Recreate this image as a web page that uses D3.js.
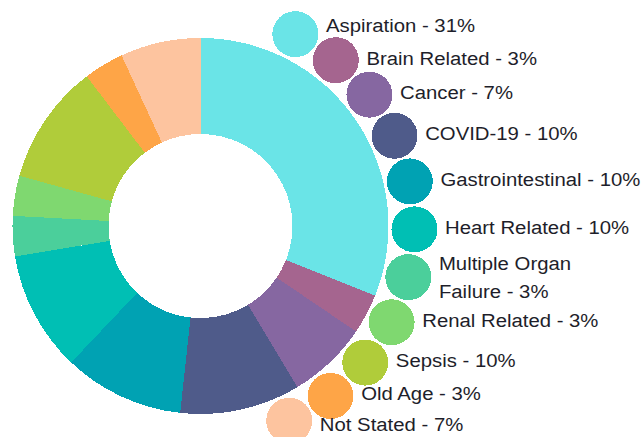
<!DOCTYPE html>
<html>
<head>
<meta charset="utf-8">
<script src="https://cdn.jsdelivr.net/npm/d3@7"></script>
<style>
  html, body { margin: 0; padding: 0; background: #fff; }
  svg { display: block; }
  text { font-family: "Liberation Sans", Arial, sans-serif; fill: #1e1e2a; }
</style>
</head>
<body>
<svg id="chart" width="644" height="437"></svg>
<script>
// Causes of death, number of cases per category
const causes = [
  "Aspiration", "Brain Related", "Cancer", "COVID-19", "Gastrointestinal",
  "Heart Related", "Multiple Organ Failure", "Renal Related", "Sepsis",
  "Old Age", "Not Stated"
];
const cases = [9, 1, 2, 3, 3, 3, 1, 1, 3, 1, 2];
const palette = [
  "#6ae4e7", "#a5658f", "#8667a1", "#4f5b8a", "#00a2b3",
  "#00bfb4", "#4bcf9b", "#7fd870", "#b0cc3a", "#fea547", "#fdc49f"
];

const W = 644, H = 437;
const cx = 200.5, cy = 226;
const outerR = 188, innerR = 92;

const total = d3.sum(cases);
const data = causes.map((c, i) => ({
  cause: c,
  value: cases[i],
  pct: Math.round(cases[i] / total * 100)
}));

const color = d3.scaleOrdinal().domain(causes).range(palette);

const svg = d3.select("#chart");
const g = svg.append("g").attr("transform", `translate(${cx},${cy})`);

const pie = d3.pie().sort(null).value(d => d.value);
const arc = d3.arc().innerRadius(innerR).outerRadius(outerR);

g.selectAll("path.slice")
  .data(pie(data))
  .join("path")
  .attr("class", "slice")
  .attr("d", arc)
  .attr("fill", d => color(d.data.cause))
  .attr("shape-rendering", "crispEdges");

// Legend: bubbles arranged on an arc around the donut
const legendR = 214, dotR = 23;
const last = causes.length - 1;
const angle = d3.scaleLinear().domain([0, last]).range([26.3, 155.5]);

const items = g.selectAll("g.legend")
  .data(data)
  .join("g")
  .attr("class", "legend")
  .attr("transform", (d, i) => {
    const a = angle(i) * Math.PI / 180;
    return `translate(${legendR * Math.sin(a)},${-legendR * Math.cos(a)})`;
  });

items.append("circle")
  .attr("r", dotR)
  .attr("fill", d => color(d.cause))
  .attr("shape-rendering", "crispEdges");

// Labels use a slightly widened face; the end labels are nudged outward
items.append("text")
  .attr("font-size", 18)
  .attr("transform", (d, i) => {
    const nudge = i === 0 ? -7 : i === last ? 6 : 0;
    return `translate(${dotR + 7.6},${4.5 + nudge}) scale(1.13,1)`;
  })
  .each(function (d) {
    const t = d3.select(this);
    if (d.cause === "Multiple Organ Failure") {
      t.append("tspan").attr("x", 0).attr("y", -12).text("Multiple Organ");
      t.append("tspan").attr("x", 0).attr("y", 16).text(`Failure - ${d.pct}%`);
    } else {
      t.text(`${d.cause} - ${d.pct}%`);
    }
  });
</script>
</body>
</html>
